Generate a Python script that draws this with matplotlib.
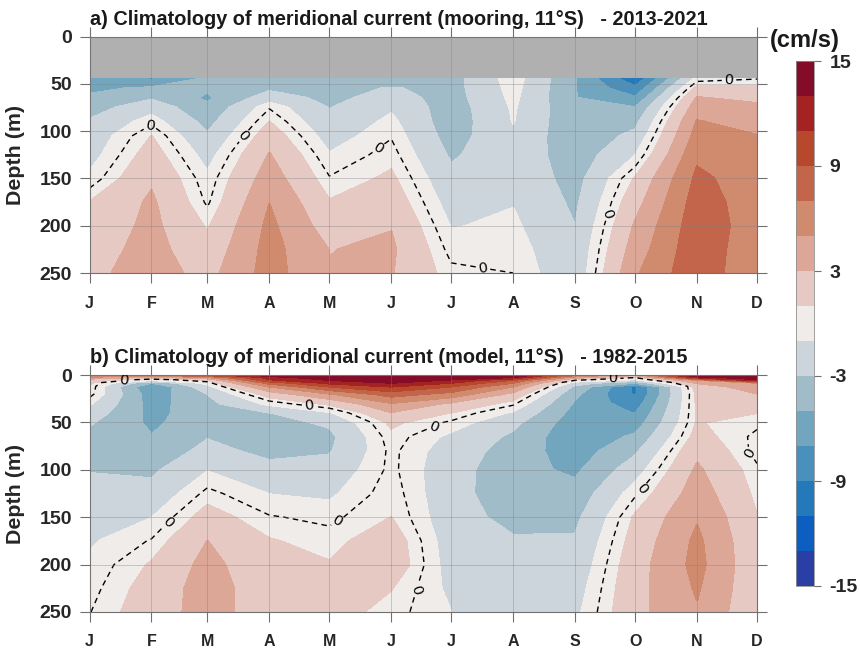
import numpy as np
import matplotlib
matplotlib.use("Agg")
import matplotlib.pyplot as plt
from matplotlib.colors import ListedColormap, BoundaryNorm

plt.rcParams['font.family'] = ['Liberation Sans', 'DejaVu Sans']
plt.rcParams['font.weight'] = 'bold'
plt.rcParams['axes.labelweight'] = 'bold'
plt.rcParams['axes.unicode_minus'] = False

# --- month axis (day of year of the first of each month) ---
month_days = [0, 31, 59, 90, 120, 151, 181, 212, 243, 273, 304, 334]
month_labels = ['J', 'F', 'M', 'A', 'M', 'J', 'J', 'A', 'S', 'O', 'N', 'D']
depth_ticks = [0, 50, 100, 150, 200, 250]
cbar_ticks = [-15, -9, -3, 3, 9, 15]
levels = list(range(-15, 16, 2))
colors = ['#2a3fa5', '#0c5fc0', '#2479bb', '#4a90bd', '#72a6bf', '#a0bcc8', '#ccd5db', '#efecea',
          '#e6c9c2', '#dca797', '#d08a6e', '#c2654a', '#b8482c', '#a42222', '#850c28']

# --- a) mooring, values in cm/s for each month at these depths ---
depth_a = [45, 55, 65, 75, 90, 105, 125, 150, 175, 200, 225, 250]
a_jan = [-6.2, -5.4, -4.7, -3.9, -2.8, -2.2, -1.7, -0.7, 1.0, 1.6, 2.1, 2.5]
a_feb = [-7.2, -4.7, -3.3, -1.8, -0.3, 1.0, 1.8, 2.7, 3.3, 3.5, 3.7, 3.9]
a_mar = [-4.6, -4.8, -5.35, -4.6, -3.7, -2.8, -1.7, -0.7, -0.2, 0.8, 1.6, 2.3]
a_apr = [-4.2, -3.4, -2.0, -0.1, 1.0, 2.0, 3.1, 4.0, 4.95, 5.45, 5.7, 5.8]
a_may = [-4.4, -4.0, -3.6, -3.1, -2.5, -1.8, -0.9, 0.1, 1.1, 2.0, 2.95, 3.1]
a_jun = [-5.1, -2.8, -2.1, -1.3, -0.6, -0.1, 0.5, 1.3, 2.1, 2.9, 3.3, 3.1]
a_jul = [-3.8, -3.8, -3.9, -4.1, -4.2, -3.9, -3.3, -2.5, -1.8, -1.1, -0.4, 0.3]
a_aug = [-0.2, -0.4, -0.6, -0.8, -0.95, -1.3, -1.6, -1.5, -1.1, -0.7, -0.3, 0.0]
a_sep = [-4.95, -4.95, -4.95, -4.6, -4.6, -4.5, -4.2, -3.8, -3.4, -3.0, -2.6, -2.4]
a_oct = [-10.5, -8.6, -6.8, -5.0, -3.6, -2.5, -1.1, 1.1, 2.2, 3.2, 3.9, 4.7]
a_nov = [-0.5, 1.5, 3.1, 4.0, 5.1, 5.7, 6.6, 7.4, 7.9, 8.2, 8.4, 8.5]
a_dec = [0.0, 1.3, 2.5, 3.4, 4.2, 5.05, 5.6, 6.0, 6.0, 6.0, 5.5, 5.1]

# --- b) model ---
depth_b = [0, 2, 5, 8, 12, 20, 30, 40, 50, 65, 80, 100, 125, 150, 175, 200, 225, 250]
b_jan = [7, 4.5, 1.8, 1.2, 0.8, 0.5, -0.8, -1.9, -2.8, -3.7, -3.9, -3.1, -2.4, -1.8, -1.2, -0.75, -0.4, -0.05]
b_feb = [6, 2.5, -0.7, -5, -7.1, -6.2, -5.8, -5.6, -5.4, -4.95, -4, -3.4, -2.3, -1.05, 0.1, 1.15, 1.7, 2]
b_mar = [9, 5, 1, -0.4, -1.6, -3, -3.6, -3.9, -3.8, -3.1, -2.6, -1.1, 0.35, 1.7, 3, 3.6, 3.9, 3.8]
b_apr = [14, 12, 10.7, 7.7, 5, 1.8, -0.6, -3.1, -3.7, -3.9, -3.4, -2.6, -1.05, 0.1, 1.1, 1.5, 1.8, 1.9]
b_may = [15, 14.5, 13, 11.5, 9, 4.7, 1.3, -1.3, -2.7, -3.5, -3.2, -2.2, -1.3, -0.3, 0.5, 1.1, 1.5, 1.7]
b_jun = [15, 15, 14, 13, 11, 7.8, 4.8, 2.8, 1.3, 0.6, 0.3, 0.3, 0.6, 1, 2, 2.2, 1.05, 0.45]
b_jul = [15, 14, 12.8, 11, 9, 6.2, 2.6, 0.9, -0.2, -1.4, -1.9, -2.2, -2.3, -2.2, -2, -1.8, -1.4, -1]
b_aug = [15, 13, 9, 7, 5, 2.3, 0.3, -1.3, -2.5, -3.4, -3.9, -4.3, -4.2, -3.6, -2.8, -2.4, -2.2, -2.1]
b_sep = [7, 4, 0.5, -2, -3.5, -4.6, -5.3, -5.8, -6.2, -6.5, -6.1, -5.4, -4.3, -3.5, -2.8, -2.3, -1.8, -1.4]
b_oct = [3, 0.5, -1.5, -5, -9.4, -9.3, -8.2, -7.1, -6.2, -4.7, -3.4, -1.9, -0.2, 1.2, 1.7, 2.1, 2.3, 2.4]
b_nov = [15, 12, 5, 3.2, 1.7, 1.3, 1.2, 1.1, 1.1, 1.6, 2.5, 3.3, 4, 4.8, 5.4, 5.6, 5.2, 4.8]
b_dec = [15, 14.5, 12.5, 5, 4.2, 2.9, 2.2, 1, 0.3, -0.3, -0.4, 0.2, 0.6, 1.05, 1.3, 1.4, 1.4, 1.3]

months_a = np.array([a_jan, a_feb, a_mar, a_apr, a_may, a_jun, a_jul, a_aug, a_sep, a_oct, a_nov, a_dec]).T
months_b = np.array([b_jan, b_feb, b_mar, b_apr, b_may, b_jun, b_jul, b_aug, b_sep, b_oct, b_nov, b_dec]).T

# where the "0" labels sit on the dashed line (day, depth)
labels_a = [(30, 93), (76, 103), (144, 116), (197, 244), (262, 189), (320, 46)]
labels_b = [(17, 6), (39, 154), (110, 30), (124, 154), (165, 228), (172, 54), (262, 4), (278, 123), (332, 81)]

W, H = 860, 648
cmap = ListedColormap(colors)
norm = BoundaryNorm(levels, cmap.N)


def draw_panel(ax, depth, vals, title, zero_labels):
    cf = ax.contourf(month_days, depth, vals, levels=levels, cmap=cmap, norm=norm, zorder=1)
    cf.set_edgecolor('face')
    cs = ax.contour(month_days, depth, vals, levels=[0], colors='k', linestyles=[(0, (4, 3))],
                    linewidths=1.0, zorder=2)
    ax.clabel(cs, fmt='%d', fontsize=11, manual=zero_labels, inline=True, inline_spacing=3)
    for t in cs.labelTexts:
        t.set_fontweight('normal')
    ax.set_xlim(0, 334)
    ax.set_ylim(250, 0)
    ax.set_xticks(month_days)
    ax.set_xticklabels(month_labels, fontsize=11.5, color='#262626')
    ax.set_yticks(depth_ticks)
    ax.tick_params(axis='y', labelsize=14, labelcolor='#262626', pad=5.5)
    ax.tick_params(axis='x', pad=9)
    ax.tick_params(axis='both', which='major', direction='out', length=7.2, width=0.8, color='#707070',
                   top=True, right=True, bottom=True, left=True)
    ax.set_axisbelow(False)
    ax.grid(True, color='#808080', alpha=0.38, linewidth=0.7)
    for s in ax.spines.values():
        s.set_color('#707070')
        s.set_linewidth(0.8)
    ax.set_ylabel('Depth (m)', fontsize=15.4, color='#262626')
    ax.yaxis.set_label_coords(-0.097, 0.5)
    ax.text(0, 1.049, title, transform=ax.transAxes, fontsize=14.3, color='#1a1a1a', ha='left', va='baseline')
    return cf


fig = plt.figure(figsize=(W / 100, H / 100), dpi=100)
ax1 = fig.add_axes([89.5 / W, 1 - 273 / H, 667.5 / W, 236.5 / H])
ax2 = fig.add_axes([89.5 / W, 1 - 612 / H, 667.5 / W, 237 / H])

ax1.axhspan(0, 45, color='#b0b0b0', lw=0, zorder=0.5)
cf = draw_panel(ax1, depth_a, months_a, 'a) Climatology of meridional current (mooring, 11°S)   - 2013-2021', labels_a)
draw_panel(ax2, depth_b, months_b, 'b) Climatology of meridional current (model, 11°S)   - 1982-2015', labels_b)

cax = fig.add_axes([796 / W, 1 - 586 / H, 18 / W, 525 / H])
cb = fig.colorbar(cf, cax=cax, ticks=cbar_ticks, spacing='proportional')
cb.minorticks_off()
cb.ax.set_yticklabels([str(t) for t in cbar_ticks], fontsize=14, color='#262626')
cb.ax.tick_params(direction='out', length=5, width=0.8, color='#707070', pad=6)
cb.outline.set_edgecolor('#909090')
cb.outline.set_linewidth(0.6)
cb.dividers.set_visible(False)
fig.text(805 / W, 1 - 41 / H, '(cm/s)', fontsize=17, color='#1a1a1a', ha='center', va='center')

fig.savefig('out.png', dpi=100)
